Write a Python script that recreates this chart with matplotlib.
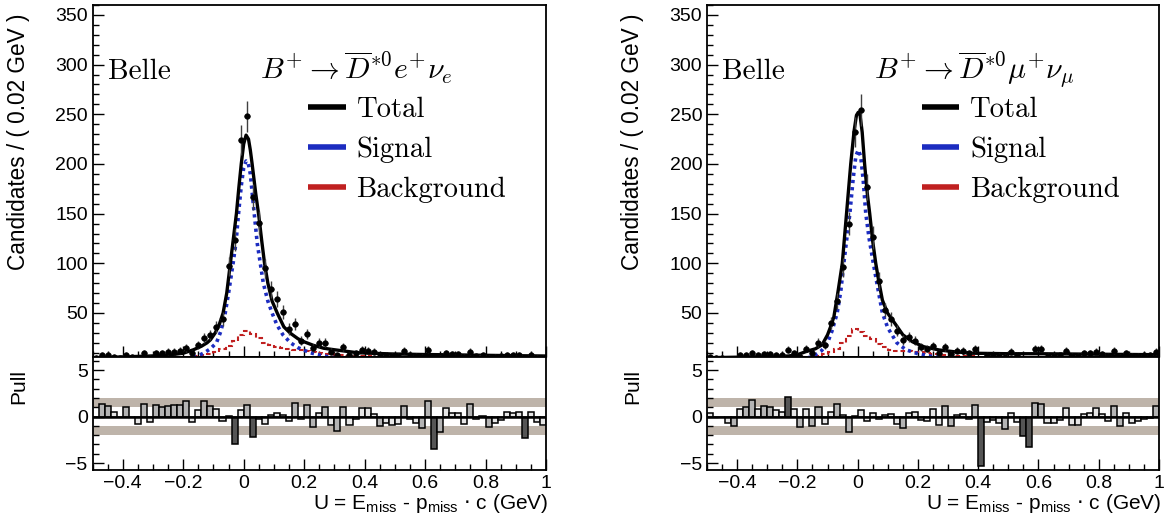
import numpy as np
import matplotlib
matplotlib.use('Agg')
import matplotlib.pyplot as plt
from matplotlib.ticker import MultipleLocator, FuncFormatter

plt.rcParams['font.family'] = ['Liberation Sans', 'DejaVu Sans']

# binning of U (GeV): 75 bins of 0.02 from -0.5 to 1.0
edges = np.linspace(-0.5, 1.0, 76)
centers = 0.5 * (edges[:-1] + edges[1:])

# ---------------- B+ -> D*0 e nu ----------------
e_data = [5, 8, 8, 6, 5, 8, 6, 4, 10, 5,
          10, 10, 11, 11, 12, 15, 10, 18, 25, 28,
          36, 44, 97, 123, 224, 248, 167, 141, 95, 74,
          64, 51, 34, 39, 22, 29, 15, 20, 20, 11,
          8, 16, 8, 10, 13, 12, 11, 7, 8, 7,
          7, 12, 8, 7, 6, 13, 3, 5, 10, 9,
          9, 6, 11, 7, 8, 5, 6, 7, 8, 8,
          8, 3, 8, 5, 5]
e_bkg = [2.0, 2.1, 2.2, 2.3, 2.4, 2.5, 2.6, 2.8, 3.0, 3.2, 3.4, 3.6,
         3.9, 4.3, 4.8, 5.5, 6.2, 7.0, 8.0, 9.0, 11, 13.5, 17, 22, 28,
         32, 29, 25, 20, 17.5, 16, 15, 14, 13, 12.5, 11.5, 10.5, 9.5, 9, 8.5,
         8, 7.5, 7, 6.8, 6.5,
         6.3, 6.1, 6.0, 5.9, 5.8, 5.7, 5.6, 5.5, 5.5, 5.4, 5.3, 5.3, 5.2, 5.1, 5.1,
         5.0, 5.0, 4.9, 4.9, 4.8, 4.8, 4.7, 4.7, 4.6, 4.6, 4.5, 4.5, 4.4, 4.4, 4.3]
e_pull = [0, 1.3, 1.1, 0.45, -0.1, 1.05, -0.1, -0.8, 1.4, -0.55,
          1.25, 1.05, 1.15, 1.2, 1.25, 1.7, -0.6, 0.7, 1.65, 1.1,
          0.8, -0.5, 0.1, -3.0, 0.7, 1.2, -2.2, -0.3, -0.8, 0.2,
          0.4, 0.2, -0.5, 1.5, -0.3, 1.2, -1.15, 0.4, 1.05, -0.9,
          -1.6, 1.05, -0.9, -0.3, 0.95, 0.9, 0.3, -1.0, -0.65, -0.9,
          -0.8, 1.1, -0.3, -0.65, -1.2, 1.7, -3.5, -1.7, 0.9, 0.35,
          0.35, -0.8, 1.4, -0.3, 0.1, -1.1, -0.65, -0.35, 0.45, 0.35,
          0.45, -2.3, 0.45, -0.55, -0.9]
e_tot_x = [-0.5, -0.4, -0.3, -0.25, -0.2, -0.166, -0.14, -0.121, -0.11, -0.094,
           -0.08, -0.068, -0.056, -0.044, -0.034, -0.024, -0.016, -0.008, 0.0, 0.008,
           0.016, 0.022, 0.028, 0.04, 0.05, 0.06, 0.069, 0.08, 0.094, 0.111,
           0.133, 0.155, 0.18, 0.2, 0.23, 0.265, 0.3, 0.376, 0.487, 0.6,
           0.708, 0.85, 1.0]
e_tot_y = [5.0, 5.8, 6.8, 7.6, 9.5, 13, 16.5, 20, 23, 30,
           39, 50, 70, 100, 125, 150, 176, 200, 220, 229,
           225, 214, 200, 170, 148, 122, 100, 80, 62, 50,
           36, 29.5, 24, 21, 17.5, 14.5, 13, 10, 8.8, 8.2,
           7.8, 7.2, 6.7]
e_sig_x = [-0.5, -0.3, -0.2, -0.15, -0.13, -0.11, -0.09, -0.075, -0.061, -0.05,
           -0.035, -0.025, -0.017, -0.008, 0.0, 0.008, 0.015, 0.022, 0.035, 0.045,
           0.055, 0.065, 0.08, 0.094, 0.11, 0.13, 0.155, 0.18, 0.22, 0.26,
           0.3, 0.4, 0.6, 1.0]
e_sig_y = [0.3, 0.8, 2.5, 7, 10, 14, 20, 32, 50, 70,
           100, 122, 150, 178, 196, 203, 201, 190, 150, 120,
           100, 80, 62, 50, 38, 28, 20, 15, 10, 7,
           5, 2.5, 1, 0.3]

# ---------------- B+ -> D*0 mu nu ----------------
mu_data = [6, 5, 5, 4, 4, 8, 8, 10, 8, 9,
           9, 8, 8, 13, 10, 6, 14, 10, 20, 18,
           40, 62, 96, 140, 232, 254, 177, 126, 82, 53,
           44, 32, 23, 26, 22, 16, 14, 17, 10, 16,
           9, 12, 12, 10, 14, 1, 8, 8, 7, 6,
           11, 8, 4, 3, 14, 14, 7, 7, 8, 12,
           7, 7, 10, 10, 11, 9, 7, 12, 6, 10,
           7, 7, 8, 8, 11]
mu_bkg = [2.0, 2.1, 2.2, 2.3, 2.4, 2.5, 2.6, 2.8, 3.0, 3.2, 3.4, 3.6, 3.9, 4.2, 4.6,
          5.0, 5.5, 6.0, 7.0, 8.5, 11, 14, 19.5, 27, 33.5,
          31, 27, 24, 19, 15.5, 13, 12, 12, 11.5, 11, 11, 10, 9, 8.5, 8,
          7.5, 7, 6.8, 6.5, 6.3,
          6.1, 6.0, 5.9, 5.8, 5.7, 5.6, 5.5, 5.5, 5.4, 5.3, 5.3, 5.2, 5.1, 5.1, 5.0,
          5.0, 4.9, 4.9, 4.8, 4.8, 4.7, 4.7, 4.6, 4.6, 4.5, 4.5, 4.4, 4.4, 4.3, 4.3]
mu_pull = [0.37, 0, 0, -0.75, -1.0, 0.8, 1.05, 1.75, 0.85, 1.1,
           1.05, 0.7, 0.5, 2.05, 0.85, -1.1, 0.8, -1.0, 1.0, -0.8,
           0.5, 1.4, 0.17, -1.7, 0.1, 0.7, -0.5, 0.4, -0.25, 0.17,
           0.27, -0.8, -1.2, 0.4, 0.45, -0.4, -0.5, 0.77, -0.9, 1.1,
           -1.0, 0.2, 0.27, -0.3, 1.2, -5.3, -0.63, -0.4, -0.73, -1.33,
           0.43, -0.63, -2.05, -3.3, 1.5, 1.37, -0.73, -0.7, -0.4, 0.93,
           -0.9, -0.9, 0.27, 0.43, 0.87, 0.27, -0.47, 1.1, -1.07, 0.43,
           -0.67, -0.47, -0.3, -0.17, 1.1]
mu_tot_x = [-0.5, -0.4, -0.3, -0.23, -0.2, -0.173, -0.14, -0.118, -0.1, -0.09,
            -0.079, -0.065, -0.051, -0.044, -0.037, -0.03, -0.023, -0.012, -0.004, 0.002,
            0.008, 0.015, 0.023, 0.032, 0.04, 0.05, 0.06, 0.07, 0.082, 0.099,
            0.127, 0.15, 0.182, 0.22, 0.27, 0.32, 0.382, 0.5, 0.6, 0.8, 1.0]
mu_tot_y = [5, 5.5, 6, 6.7, 8, 11, 14, 18, 28, 36,
            46, 72, 100, 125, 150, 175, 200, 233, 249, 252,
            249, 232, 200, 170, 150, 122, 100, 82, 63, 50,
            38, 28, 21, 16, 12.8, 11, 9.5, 9, 9, 8.5, 8]
mu_sig_x = [-0.5, -0.3, -0.2, -0.15, -0.12, -0.1, -0.085, -0.068, -0.056, -0.046,
            -0.036, -0.026, -0.015, -0.006, 0.002, 0.01, 0.018, 0.027, 0.038, 0.052,
            0.065, 0.082, 0.1, 0.13, 0.16, 0.2, 0.25, 0.3, 0.4, 0.6, 1.0]
mu_sig_y = [0.3, 0.8, 2.5, 6, 12, 20, 32, 50, 72, 100,
            125, 150, 185, 208, 214, 208, 185, 150, 125, 100,
            78, 50, 35, 20, 13, 9, 6, 4.5, 2.5, 1, 0.3]

W, H = 1167, 525
fig = plt.figure(figsize=(W / 100, H / 100), dpi=100)

SERIF = 'cmr10'
C_TOT = 'black'
C_SIG = '#1c2cc0'
C_BKG = '#c02020'
BAND = '#beb4aa'


def px_axes(x0, x1, y0, y1):
    return fig.add_axes([x0 / W, 1 - y1 / H, (x1 - x0) / W, (y1 - y0) / H])


def minus_fmt(v, pos):
    return ('%g' % v).replace('-', '\u2212')


def style_axis(ax):
    ax.tick_params(which='both', direction='in', top=False, right=False,
                   labelsize=14, width=1.0)
    ax.tick_params(which='major', length=8)
    ax.tick_params(which='minor', length=4)
    for s in ax.spines.values():
        s.set_linewidth(1.3)


def draw_panel(x0, x1, data, bkg, pull, tot_x, tot_y, sig_x, sig_y, decay):
    ax = px_axes(x0, x1, 5, 357)
    pax = px_axes(x0, x1, 357, 470)

    # main fit panel
    ax.plot(tot_x, tot_y, color=C_TOT, lw=2.4, zorder=4)
    ax.plot(sig_x, sig_y, color=C_SIG, lw=2.6, ls=(0, (0.9, 1.1)), zorder=3)
    ax.stairs(bkg, edges, baseline=None, color=C_BKG, lw=1.5,
              ls=(0, (2.2, 1.4)), zorder=2)
    ax.errorbar(centers, data, xerr=0.01, yerr=np.sqrt(data), fmt='o',
                color='black', ms=3.5, ecolor='#404040', elinewidth=1.0,
                capsize=0, zorder=5)
    ax.set_xlim(-0.5, 1.0)
    ax.set_ylim(5.7, 360)
    ax.yaxis.set_major_locator(MultipleLocator(50))
    ax.yaxis.set_minor_locator(MultipleLocator(10))
    ax.xaxis.set_major_locator(MultipleLocator(0.2))
    ax.xaxis.set_minor_locator(MultipleLocator(0.05))
    style_axis(ax)
    ax.tick_params(axis='x', labelbottom=False)

    ax.text(0.034, 0.79, 'Belle', transform=ax.transAxes, fontsize=21,
            family=SERIF, va='baseline')
    ax.text(0.37, 0.79, decay, transform=ax.transAxes, fontsize=21.5,
            math_fontfamily='cm', va='baseline')
    labels = ['Total', 'Signal', 'Background']
    colors = [C_TOT, C_SIG, C_BKG]
    for i, (lab, c) in enumerate(zip(labels, colors)):
        yb = 1 - (116.7 + 40 * i - 5) / 352
        yl = 1 - (114 + 40 * i - 5) / 352
        ax.plot([0.475, 0.558], [yl + 0.02, yl + 0.02], color=c, lw=4,
                transform=ax.transAxes, solid_capstyle='butt')
        ax.text(0.582, yb, lab, transform=ax.transAxes, fontsize=20.6,
                family=SERIF, va='baseline')

    # pull panel
    pax.axhspan(1, 2, color=BAND, lw=0, zorder=0)
    pax.axhspan(-2, -1, color=BAND, lw=0, zorder=0)
    fills = []
    for p in pull:
        if abs(p) >= 2:
            fills.append('#555555')
        elif abs(p) >= 1:
            fills.append('#b4b4b4')
        else:
            fills.append('#e6e6e6')
    pax.bar(edges[:-1], pull, width=0.02, align='edge', color=fills,
            edgecolor='black', linewidth=1.1, zorder=2)
    pax.axhline(0, color='black', lw=1.8, zorder=3)
    pax.set_xlim(-0.5, 1.0)
    pax.set_ylim(-5.75, 6.4)
    pax.yaxis.set_major_locator(MultipleLocator(5))
    pax.yaxis.set_minor_locator(MultipleLocator(1))
    pax.xaxis.set_major_locator(MultipleLocator(0.2))
    pax.xaxis.set_minor_locator(MultipleLocator(0.05))
    pax.xaxis.set_major_formatter(FuncFormatter(minus_fmt))
    pax.yaxis.set_major_formatter(FuncFormatter(minus_fmt))
    style_axis(pax)

    fig.text((x0 - 74) / W, 1 - 14 / H, 'Candidates / ( 0.02 GeV )',
             rotation=90, ha='center', va='top', fontsize=16.3)
    fig.text((x0 - 74) / W, 1 - 369 / H, 'Pull', rotation=90,
             ha='center', va='top', fontsize=15)
    fig.text((x1 + 2) / W, 1 - 509 / H,
             r'U = E$_{\mathregular{miss}}$ - p$_{\mathregular{miss}}$ $\cdot$ c (GeV)',
             ha='right', va='baseline', fontsize=15)
    return ax, pax


draw_panel(92.5, 546, e_data, e_bkg, e_pull, e_tot_x, e_tot_y, e_sig_x, e_sig_y,
           r'$B^{+}\rightarrow \overline{D}^{*0}e^{+}\nu_{e}$')
draw_panel(707, 1159, mu_data, mu_bkg, mu_pull, mu_tot_x, mu_tot_y, mu_sig_x, mu_sig_y,
           r'$B^{+}\rightarrow \overline{D}^{*0}\mu^{+}\nu_{\mu}$')

fig.savefig('out.png', dpi=100)
